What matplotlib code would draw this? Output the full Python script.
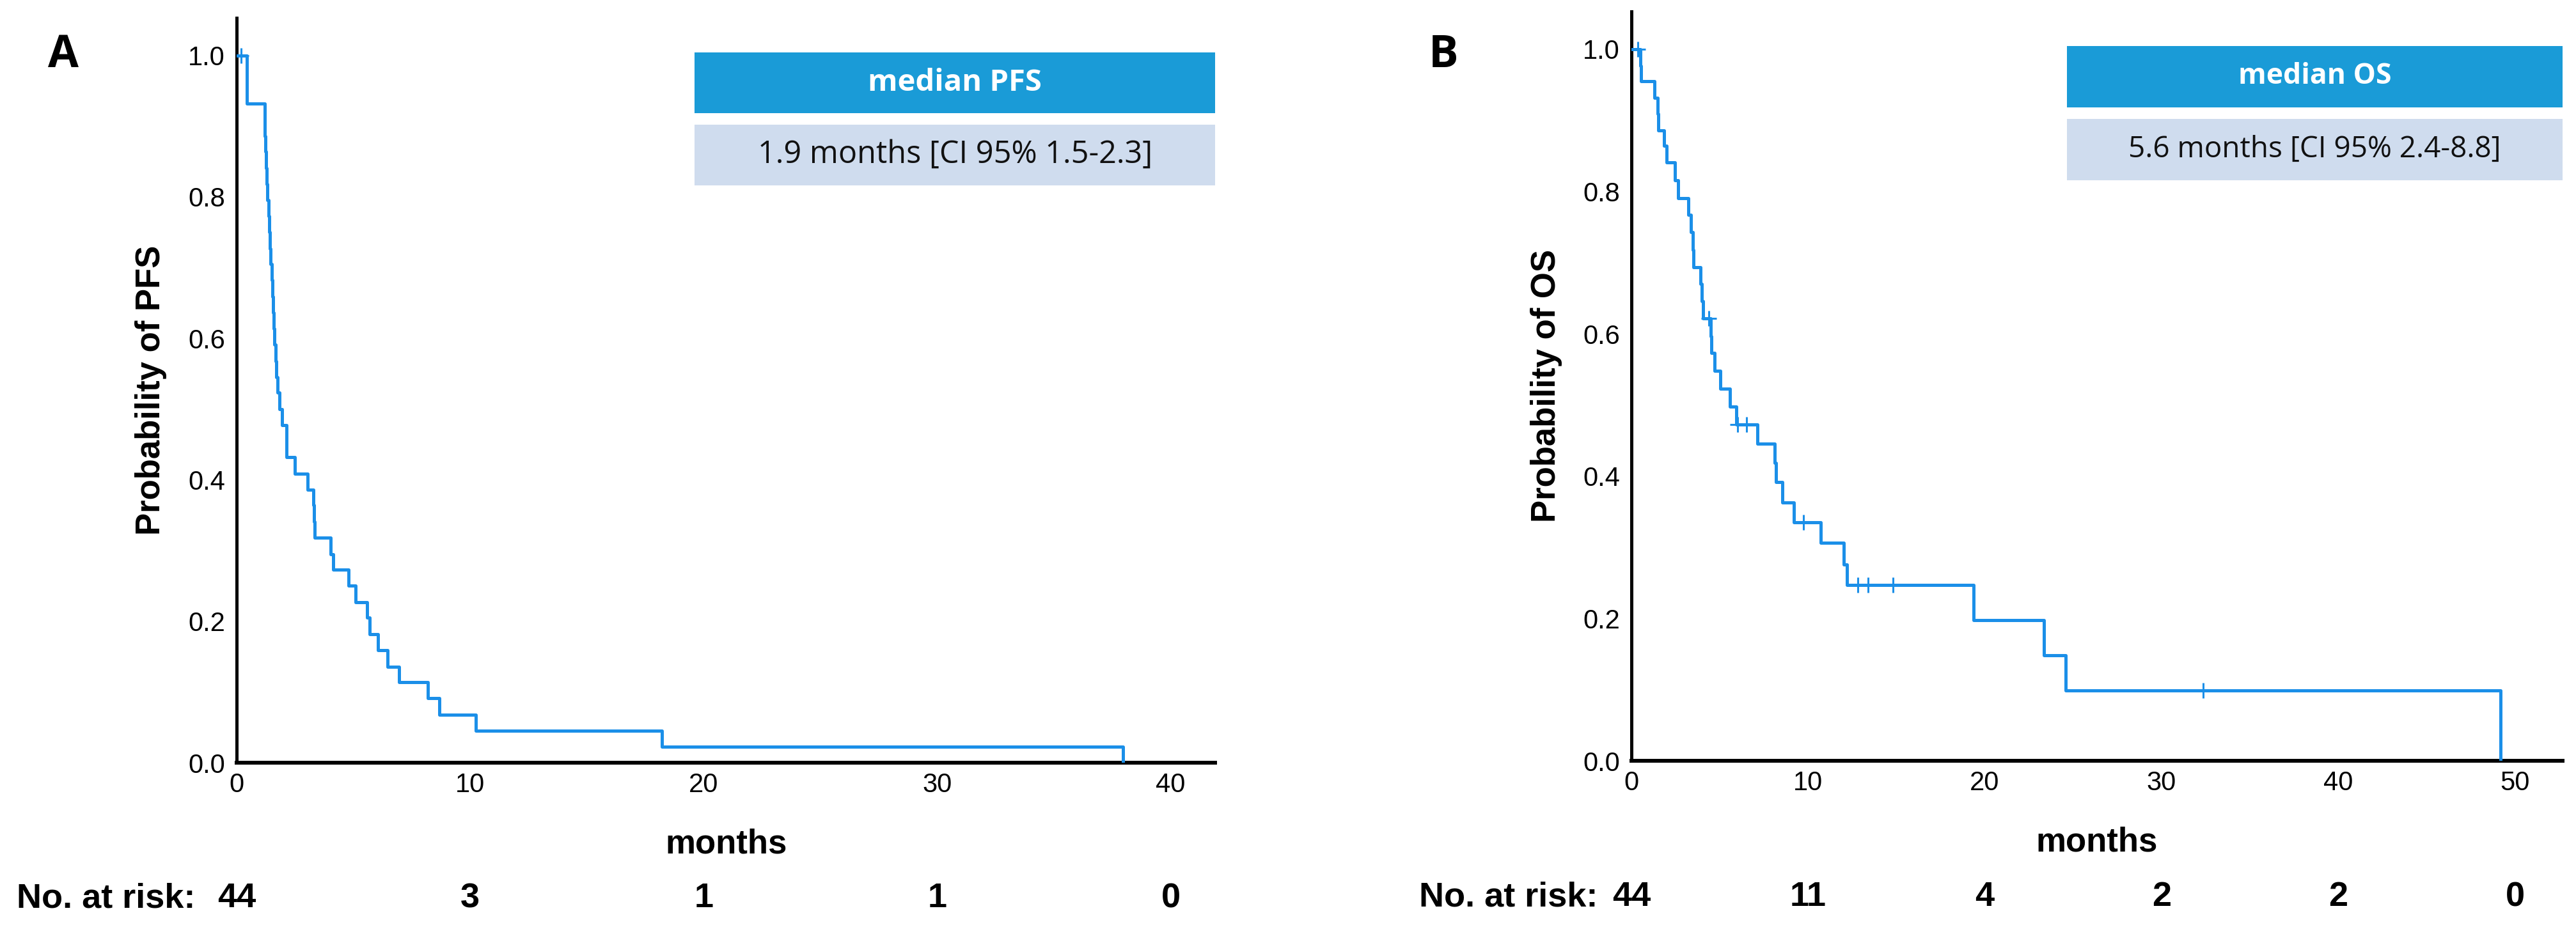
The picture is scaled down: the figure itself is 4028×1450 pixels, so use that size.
import matplotlib.pyplot as plt
import matplotlib.transforms as mtransforms
import numpy as np
from matplotlib.patches import Rectangle

plt.rcParams['font.family'] = ['Liberation Sans', 'DejaVu Sans']

# PFS (panel A): step times (months) and survival after each step
pfs_t = [0, 0.44, 1.19, 1.21, 1.23, 1.26, 1.29, 1.32, 1.36, 1.39, 1.42, 1.46, 1.49,
         1.52, 1.55, 1.58, 1.62, 1.66, 1.70, 1.76, 1.82, 1.93, 2.12, 2.48, 3.03,
         3.27, 3.31, 3.35, 4.02, 4.12, 4.80, 5.10, 5.58, 5.68, 6.05, 6.45, 6.94,
         8.18, 8.67, 10.25, 18.2, 37.95]
pfs_s = [1.0, 0.932, 0.909, 0.886, 0.864, 0.841, 0.818, 0.795, 0.773, 0.750, 0.727,
         0.705, 0.682, 0.659, 0.636, 0.614, 0.591, 0.568, 0.545, 0.523, 0.500, 0.477,
         0.432, 0.409, 0.386, 0.364, 0.341, 0.318, 0.295, 0.273, 0.250, 0.227, 0.205,
         0.182, 0.159, 0.136, 0.114, 0.091, 0.068, 0.045, 0.023, 0.0]
pfs_censor = [0.2]

# OS (panel B)
os_t = [0, 0.51, 0.55, 1.30, 1.47, 1.51, 1.85, 2.0, 2.46, 2.64, 3.23, 3.38, 3.46,
        3.51, 3.92, 4.0, 4.05, 4.48, 4.53, 4.70, 5.05, 5.58, 5.95, 7.12, 8.10, 8.17,
        8.56, 9.18, 10.71, 12.03, 12.20, 19.37, 23.36, 24.58, 49.2]
os_s = [1.0, 0.977, 0.955, 0.932, 0.909, 0.886, 0.864, 0.841, 0.816, 0.791, 0.767,
        0.743, 0.718, 0.694, 0.670, 0.646, 0.622, 0.597, 0.573, 0.548, 0.523, 0.498,
        0.473, 0.446, 0.419, 0.392, 0.363, 0.335, 0.306, 0.276, 0.247, 0.198, 0.148,
        0.099, 0.0]
os_censor = [0.35, 4.38, 6.0, 6.5, 9.73, 12.8, 13.4, 14.8, 32.35]

pfs_ticks = [0, 10, 20, 30, 40]
pfs_risk = [44, 3, 1, 1, 0]
os_ticks = [0, 10, 20, 30, 40, 50]
os_risk = [44, 11, 4, 2, 2, 0]

yticks = [0.0, 0.2, 0.4, 0.6, 0.8, 1.0]

curve_col = '#1b8fe8'
head_col = '#1a9bd7'
body_col = '#cfdcee'
box_font = ['Open Sans', 'DejaVu Sans']

fig = plt.figure(figsize=(40.28, 14.5), dpi=100)
axA = fig.add_axes([0.0919, 0.1772, 0.3798, 0.8035])
axB = fig.add_axes([0.6333, 0.1793, 0.3615, 0.8083])


def step_value(t, s, x):
    i = np.searchsorted(t, x, side='right') - 1
    return np.asarray(s)[i]


def draw_panel(ax, t, s, cens, xmax, ticks, risk, ylabel, title, body,
               title_size, body_size, lab_x, risk_x):
    ax.step(t, s, where='post', color=curve_col, lw=3.6, zorder=3)
    cy = [step_value(t, s, c) for c in cens]
    ax.plot(cens, cy, ls='none', marker='+', ms=17, mew=2.2, color=curve_col, zorder=3)

    ax.set_xlim(0, xmax)
    ax.set_ylim(0, 1.053)
    ax.set_xticks(ticks)
    ax.set_yticks(yticks)
    ax.set_yticklabels(['%.1f' % v for v in yticks])
    ax.tick_params(axis='both', length=0, labelsize=30)
    ax.tick_params(axis='x', pad=11)
    ax.tick_params(axis='y', pad=13)
    for side in ['top', 'right']:
        ax.spines[side].set_visible(False)
    ax.spines['left'].set_linewidth(3.6)
    ax.spines['bottom'].set_linewidth(4.3)

    ax.text(lab_x, 0.5, ylabel, transform=ax.transAxes, rotation=90,
            ha='center', va='center', fontsize=38, fontweight='bold')
    ax.text(0.5, -0.109, 'months', transform=ax.transAxes, ha='center',
            va='center', fontsize=38, fontweight='bold')

    trans = mtransforms.blended_transform_factory(ax.transData, ax.transAxes)
    for x, n in zip(ticks, risk):
        ax.text(x, -0.182, str(n), transform=trans, ha='center', va='center',
                fontsize=39, fontweight='bold')
    ax.text(risk_x, -0.182, 'No. at risk:', transform=ax.transAxes, ha='right',
            va='center', fontsize=39, fontweight='bold')

    ax.add_patch(Rectangle((0.468, 0.872), 0.532, 0.082, transform=ax.transAxes,
                           facecolor=head_col, edgecolor='none', clip_on=False))
    ax.add_patch(Rectangle((0.468, 0.775), 0.532, 0.082, transform=ax.transAxes,
                           facecolor=body_col, edgecolor='none', clip_on=False))
    ax.text(0.734, 0.913, title, transform=ax.transAxes, ha='center', va='center',
            color='white', fontsize=title_size, fontweight='bold', family=box_font)
    ax.text(0.734, 0.816, body, transform=ax.transAxes, ha='center', va='center',
            color='#111111', fontsize=body_size, family=box_font)


draw_panel(axA, pfs_t, pfs_s, pfs_censor, 41.9, pfs_ticks, pfs_risk,
           'Probability of PFS', 'median PFS', '1.9 months [CI 95% 1.5-2.3]',
           34, 35, -0.0876, -0.042)
draw_panel(axB, os_t, os_s, os_censor, 52.7, os_ticks, os_risk,
           'Probability of OS', 'median OS', '5.6 months [CI 95% 2.4-8.8]',
           32, 33, -0.0913, -0.036)

fig.text(0.0246, 0.94, 'A', ha='center', va='center', fontsize=50,
         fontweight='bold', family=box_font)
fig.text(0.5603, 0.94, 'B', ha='center', va='center', fontsize=50,
         fontweight='bold', family=box_font)

fig.savefig('out.png', dpi=100)
